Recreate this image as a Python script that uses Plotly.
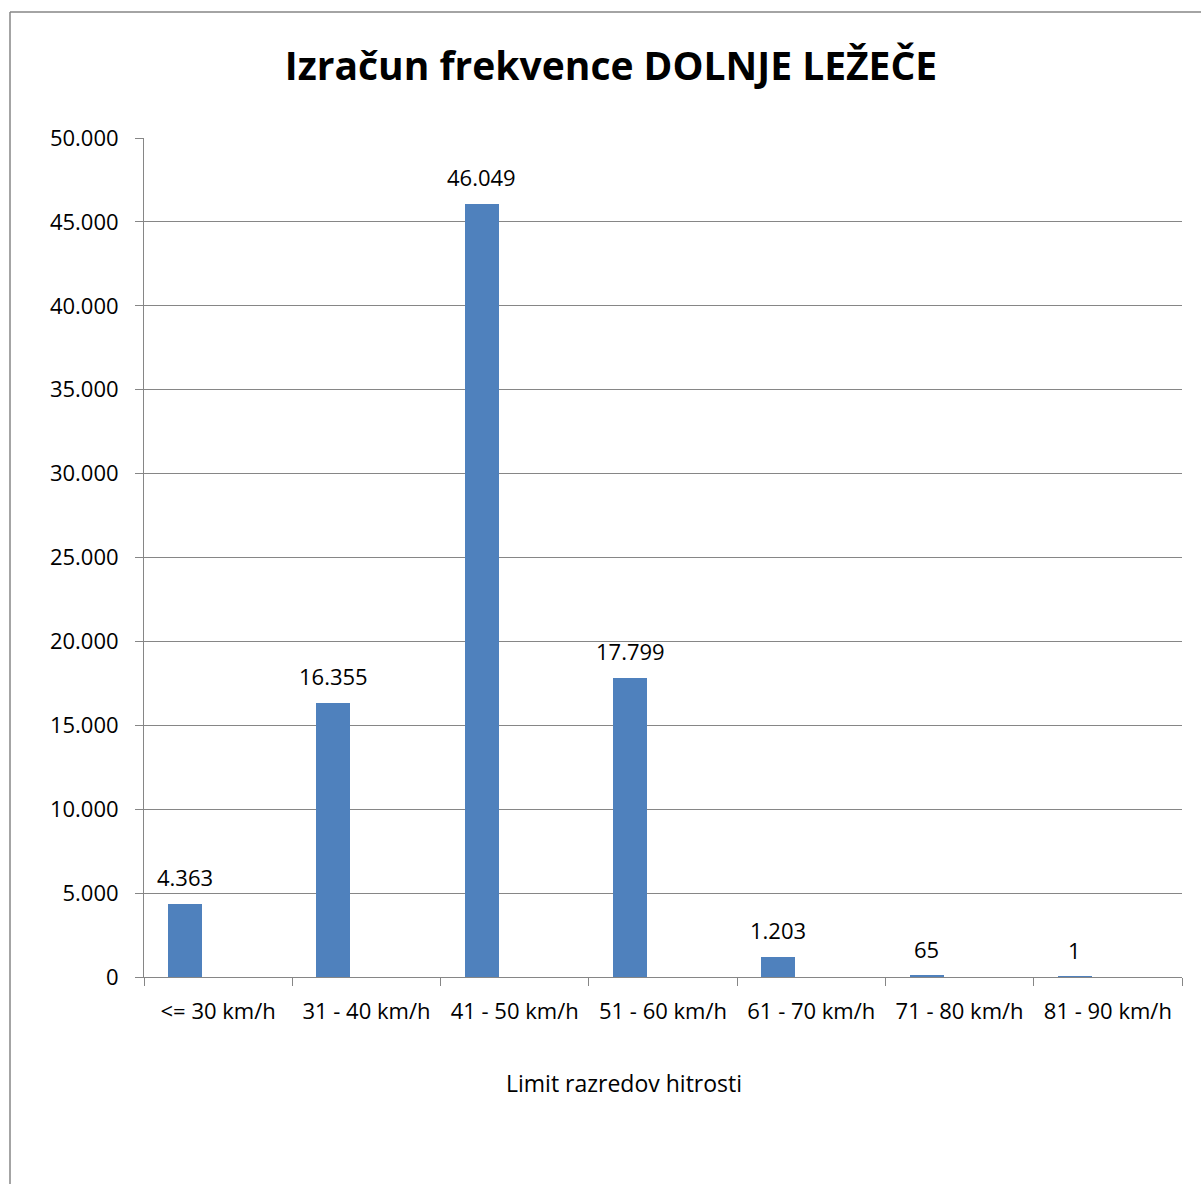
import plotly.graph_objects as go

categories = ["<= 30 km/h", "31 - 40 km/h", "41 - 50 km/h", "51 - 60 km/h",
              "61 - 70 km/h", "71 - 80 km/h", "81 - 90 km/h"]
frequencies = [4363, 16355, 46049, 17799, 1203, 65, 1]
y_ticks = [0, 5000, 10000, 15000, 20000, 25000, 30000, 35000, 40000, 45000, 50000]

W, H = 1201, 1184
L, R, T, B = 144, 19, 138, 207
pw, ph = W - L - R, H - T - B
FONT = "Open Sans"
GRAY = "#868686"

fig = go.Figure()
fig.add_trace(go.Bar(
    x=categories, y=frequencies,
    width=0.229, offset=-0.337,
    marker=dict(color="#4F81BD", line=dict(width=0)),
))

# data labels above each bar
for c, v in zip(categories, frequencies):
    fig.add_annotation(x=c, y=v, xref="x", yref="y",
                       text=f"{v:,}".replace(",", "."),
                       showarrow=False, xshift=-33, yshift=27,
                       xanchor="center", yanchor="middle",
                       font=dict(family=FONT, size=22, color="#000000"))

fig.update_layout(
    width=W, height=H,
    margin=dict(l=L, r=R, t=T, b=B, autoexpand=False),
    paper_bgcolor="white", plot_bgcolor="white",
    separators=",.",
    showlegend=False,
    title=dict(text="<b>Izračun frekvence DOLNJE LEŽEČE</b>",
               x=611 / W, xanchor="center", y=1 - 66 / H, yanchor="middle",
               font=dict(family=FONT, size=39, color="#000000")),
    xaxis=dict(type="category", range=[-0.5, 6.5], tickson="boundaries",
               ticks="outside", ticklen=8, tickcolor=GRAY, tickwidth=1,
               showline=True, linecolor=GRAY, linewidth=1,
               showgrid=False, ticklabelstandoff=15,
               tickfont=dict(family=FONT, size=22, color="#000000")),
    yaxis=dict(range=[0, 50000], tickvals=y_ticks, tickformat=",.0f",
               ticks="outside", ticklen=8, tickcolor=GRAY, tickwidth=1,
               showline=True, linecolor=GRAY, linewidth=1,
               showgrid=True, gridcolor=GRAY, gridwidth=1,
               zeroline=False, ticklabelstandoff=12,
               tickfont=dict(family=FONT, size=22, color="#000000")),
    bargap=0,
)

# x axis title
fig.add_annotation(text="Limit razredov hitrosti", xref="paper", yref="paper",
                   x=(624 - L) / pw, y=-(1083 - (H - B)) / ph,
                   xanchor="center", yanchor="middle", showarrow=False,
                   font=dict(family=FONT, size=23, color="#000000"))

# outer chart-area frame (left and top edges visible)
x_left = (10 - L) / pw
y_top = 1 + (T - 12) / ph
fig.add_shape(type="line", xref="paper", yref="paper",
              x0=x_left, x1=x_left, y0=y_top, y1=-(B + 20) / ph,
              line=dict(color=GRAY, width=1.5))
fig.add_shape(type="line", xref="paper", yref="paper",
              x0=x_left, x1=1 + (R + 20) / pw, y0=y_top, y1=y_top,
              line=dict(color=GRAY, width=1.5))

fig.write_html("out.html", config={"displayModeBar": False},
               post_script="document.body.style.margin='0';")
